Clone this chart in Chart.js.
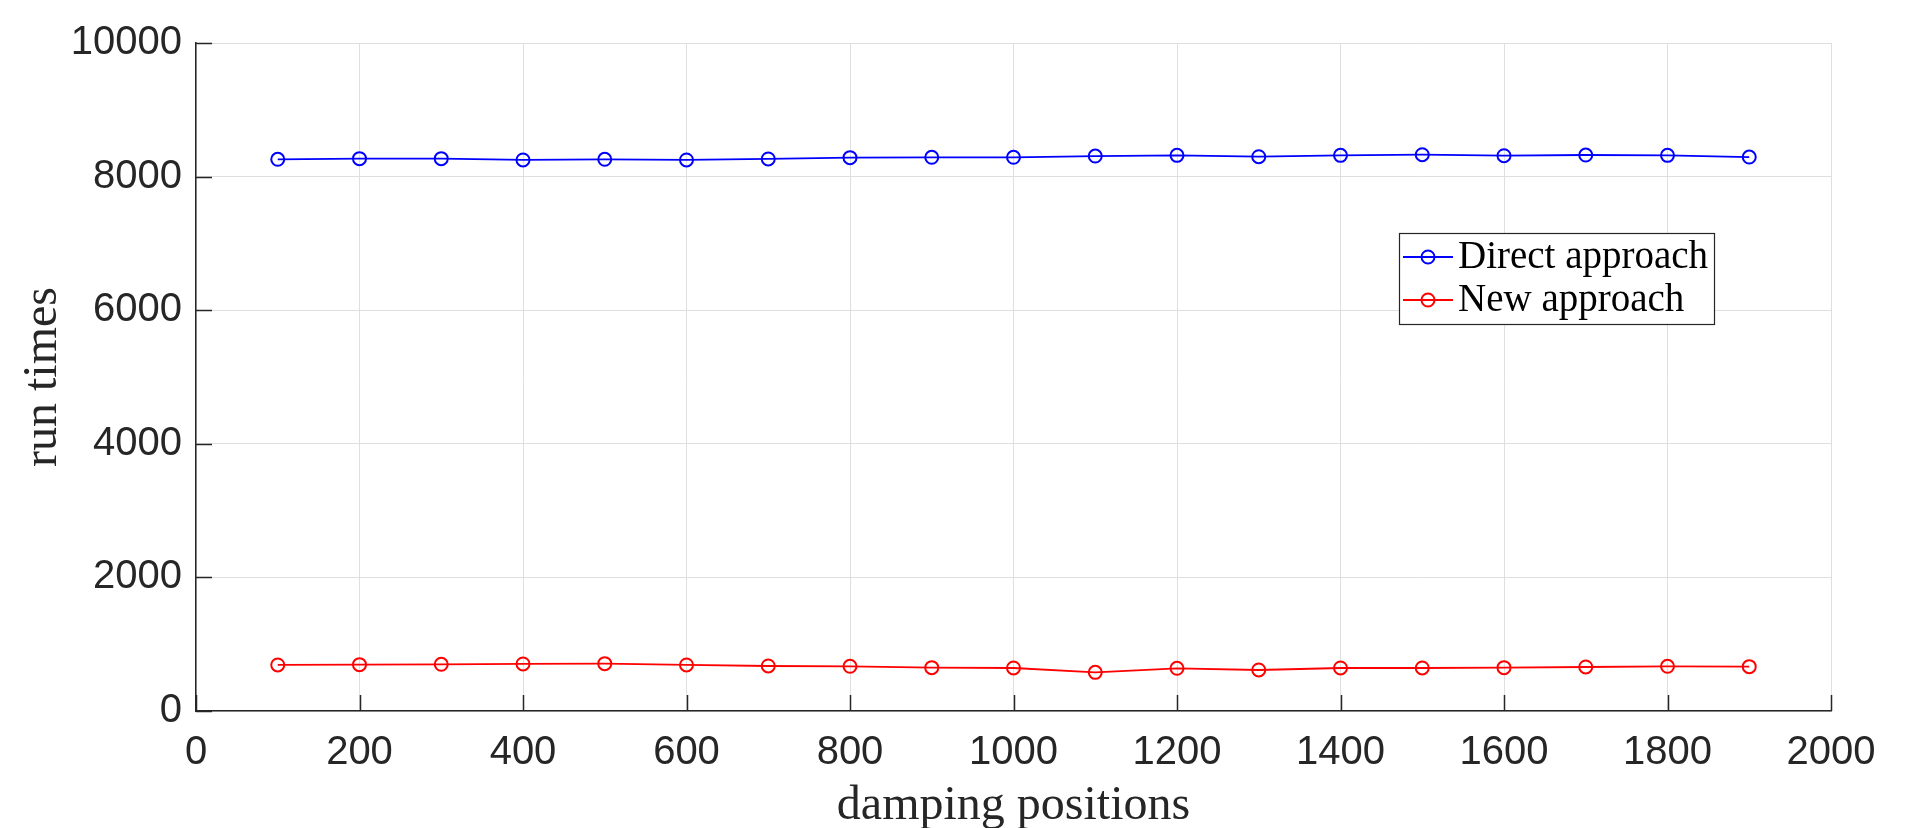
<!DOCTYPE html>
<html>
<head>
<meta charset="utf-8">
<script src="https://cdn.jsdelivr.net/npm/chart.js@4/dist/chart.umd.min.js"></script>
<style>
  html, body { margin: 0; padding: 0; background: #fff; }
  #wrap { width: 1920px; height: 828px; }
</style>
</head>
<body>
<div id="wrap"><canvas id="runChart"></canvas></div>
<script>
const positions = [100, 200, 300, 400, 500, 600, 700, 800, 900, 1000,
  1100, 1200, 1300, 1400, 1500, 1600, 1700, 1800, 1900];
const directTimes = [8259, 8269, 8269, 8249, 8259, 8249, 8264, 8284, 8289, 8289,
  8308, 8318, 8298, 8318, 8328, 8313, 8323, 8318, 8293];
const newTimes = [689, 694, 699, 704, 709, 689, 674, 669, 649, 644,
  579, 639, 614, 644, 644, 649, 659, 669, 664];
const xTicks = [0, 200, 400, 600, 800, 1000, 1200, 1400, 1600, 1800, 2000];
const yTicks = [0, 2000, 4000, 6000, 8000, 10000];

const tickFont = { family: "'Liberation Sans', Arial, sans-serif", size: 40 };
const titleFont = { family: "'Liberation Serif', 'Times New Roman', serif", size: 48 };

function toPoints(ys) {
  return positions.map((x, i) => ({ x: x, y: ys[i] }));
}

// MATLAB style: ticks pointing into the plot, plus a boxed legend inside
const innerTicks = {
  id: "innerTicks",
  afterDraw(chart) {
    const ctx = chart.ctx;
    const a = chart.chartArea;
    const xs = chart.scales.x, ys = chart.scales.y;
    ctx.save();
    ctx.strokeStyle = "#262626";
    ctx.lineWidth = 1.5;
    ctx.beginPath();
    xTicks.forEach(v => {
      const px = Math.round(xs.getPixelForValue(v)) + 0.5;
      ctx.moveTo(px, a.bottom);
      ctx.lineTo(px, a.bottom - 16);
    });
    yTicks.forEach(v => {
      const py = Math.round(ys.getPixelForValue(v)) + 0.5;
      ctx.moveTo(a.left, py);
      ctx.lineTo(a.left + 16, py);
    });
    ctx.stroke();

    // legend
    const lx = 1399, ly = 233, lw = 315, lh = 91;
    ctx.fillStyle = "#fff";
    ctx.fillRect(lx, ly, lw, lh);
    ctx.strokeStyle = "#262626";
    ctx.lineWidth = 1.2;
    ctx.strokeRect(lx + 0.5, ly + 0.5, lw, lh);
    ctx.font = "39px 'Liberation Serif', 'Times New Roman', serif";
    ctx.textBaseline = "alphabetic";
    chart.data.datasets.forEach((ds, i) => {
      const cy = 257 + i * 43;
      ctx.strokeStyle = ds.borderColor;
      ctx.lineWidth = 2;
      ctx.beginPath();
      ctx.moveTo(lx + 4, cy);
      ctx.lineTo(lx + 54, cy);
      ctx.stroke();
      ctx.beginPath();
      ctx.arc(lx + 29, cy, 6.5, 0, Math.PI * 2);
      ctx.stroke();
      ctx.fillStyle = "#000";
      ctx.fillText(ds.label, lx + 59, cy + 11);
    });
    ctx.restore();
  }
};

new Chart(document.getElementById("runChart"), {
  type: "line",
  data: {
    datasets: [
      {
        label: "Direct approach",
        data: toPoints(directTimes),
        borderColor: "#0000ff",
        backgroundColor: "rgba(0,0,0,0)",
        borderWidth: 1.8,
        pointRadius: 6.5,
        pointBorderWidth: 2,
        pointHoverRadius: 6.5,
        tension: 0
      },
      {
        label: "New approach",
        data: toPoints(newTimes),
        borderColor: "#ff0000",
        backgroundColor: "rgba(0,0,0,0)",
        borderWidth: 1.8,
        pointRadius: 6.5,
        pointBorderWidth: 2,
        pointHoverRadius: 6.5,
        tension: 0
      }
    ]
  },
  options: {
    responsive: true,
    maintainAspectRatio: false,
    animation: false,
    layout: { padding: { top: 43, right: 89, left: 0, bottom: 0 } },
    plugins: {
      legend: { display: false },
      tooltip: { enabled: false }
    },
    scales: {
      x: {
        type: "linear",
        min: 0,
        max: 2000,
        afterBuildTicks: s => { s.ticks = xTicks.map(v => ({ value: v })); },
        afterFit: s => { s.height = 117; },
        grid: { color: "#dfdfdf", lineWidth: 1, drawTicks: false },
        border: { display: true, color: "#262626", width: 1.5 },
        ticks: { font: tickFont, color: "#262626", padding: 18, maxRotation: 0,
          callback: v => String(v) },
        title: {
          display: true,
          text: "damping positions",
          font: titleFont,
          color: "#262626",
          padding: { top: 0, bottom: -7 }
        }
      },
      y: {
        type: "linear",
        min: 0,
        max: 10000,
        afterBuildTicks: s => { s.ticks = yTicks.map(v => ({ value: v })); },
        afterFit: s => { s.width = 196; },
        grid: { color: "#dfdfdf", lineWidth: 1, drawTicks: false },
        border: { display: true, color: "#262626", width: 1.5 },
        ticks: { font: tickFont, color: "#262626", padding: 14,
          callback: v => String(v) },
        title: {
          display: true,
          text: "run times",
          font: titleFont,
          color: "#262626",
          padding: { top: 15, bottom: 0 }
        }
      }
    }
  },
  plugins: [innerTicks]
});
</script>
</body>
</html>
